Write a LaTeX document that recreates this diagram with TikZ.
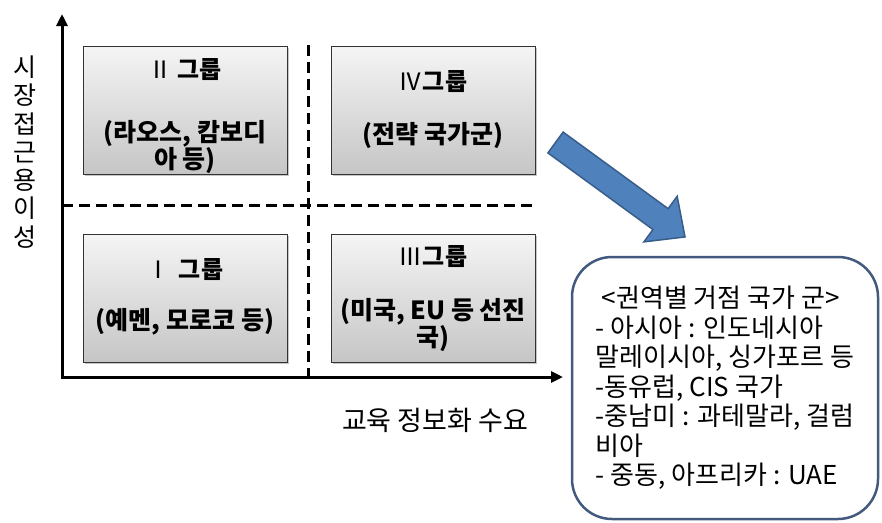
\documentclass[tikz,border=0pt]{standalone}
\usepackage{fontspec}
\setmainfont{Noto Sans CJK KR}
\usepackage{tikz}
\usetikzlibrary{shadows,arrows.meta}

\definecolor{arrowblue}{RGB}{79,129,189}
\definecolor{arrowline}{RGB}{56,93,138}
\definecolor{infoline}{RGB}{65,90,125}

\begin{document}
\begin{tikzpicture}[x=1pt,y=1pt,
        group/.style={draw=black!80,line width=0.8pt,top color=gray!8,bottom color=gray!45,minimum width=204pt,minimum height=128pt,drop shadow={shadow xshift=2pt,shadow yshift=-2pt,opacity=0.45}},
        gtitle/.style={font=\fontsize{24}{26}\selectfont},
        gbody/.style={font=\fontsize{25}{25.5}\selectfont\bfseries,align=center},
        axis/.style={line width=3pt,{Triangle[length=12pt,width=11pt]}-{Triangle[length=12pt,width=11pt]}},
        divider/.style={line width=3pt,dash pattern=on 11pt off 6pt},
        info/.style={draw=infoline,line width=2.5pt,rounded corners=40pt,minimum width=306pt,minimum height=262pt,align=left,font=\fontsize{26}{29.5}\selectfont}]
        \useasboundingbox (0,0) rectangle (882,-522);

        \coordinate (o) at (62,-377);
        \coordinate (ytip) at (62,-14);
        \coordinate (xtip) at (563,-377);
        \coordinate (vtop) at (308,-45);
        \coordinate (vbot) at (308,-377);
        \coordinate (hl) at (62,-205);
        \coordinate (hr) at (535,-205);

        \draw[divider] (vtop) -- (vbot);
        \draw[divider] (hl) -- (hr);
        \draw[axis] (ytip) -- (o) -- (xtip);

        \node[group] (g2) at (185,-110) {};
        \node[group] (g4) at (433,-110) {};
        \node[group] (g1) at (185,-298) {};
        \node[group] (g3) at (433,-298) {};

        \node[gtitle] (t2) at (185,-70)  {Ⅱ\hspace{5pt}\textbf{그룹}};
        \node[gtitle] (t4) at (433,-82)  {Ⅳ\textbf{그룹}};
        \node[gtitle] (t1) at (185,-270) {Ⅰ\hspace{8pt}\textbf{그룹}};
        \node[gtitle] (t3) at (433,-257) {Ⅲ\textbf{그룹}};

        \node[gbody] (c2) at (185,-147) {(라오스, 캄보디\\아 등)};
        \node[gbody] (c4) at (433,-135) {(전략 국가군)};
        \node[gbody] (c1) at (185,-322) {(예멘, 모로코 등)};
        \node[gbody] (c3) at (433,-325) {(미국, EU 등 선진\\국)};

        \node[align=center,font=\fontsize{25}{28.3}\selectfont] (ylab) at (25,-152) {시\\장\\접\\근\\용\\이\\성};
        \node[font=\fontsize{27}{28}\selectfont] (xlab) at (435,-420) {교육 정보화 수요};

        \begin{scope}[shift={(555.5,-142.5)},rotate=-36.1]
                \fill[arrowblue,draw=arrowline,line width=1.5pt,line join=miter] (0,12.9) -- (130,12.9) -- (130,28.2) -- (160.3,0) -- (130,-28.2) -- (130,-12.9) -- (0,-12.9) -- cycle;
        \end{scope}

        \node[info] (regions) at (725,-388) {\hspace*{6pt}<권역별 거점 국가 군>\\- 아시아 : 인도네시아\\말레이시아, 싱가포르 등\\-동유럽, CIS 국가\\-중남미 : 과테말라, 걸럼\\비아\\- 중동, 아프리카 : UAE};
\end{tikzpicture}
\end{document}
